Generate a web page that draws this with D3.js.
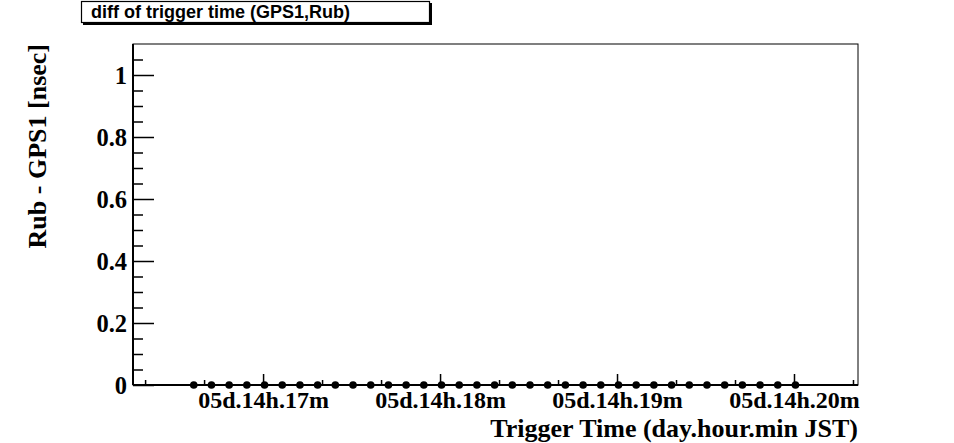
<!DOCTYPE html>
<html>
<head>
<meta charset="utf-8">
<script src="https://cdn.jsdelivr.net/npm/d3@7"></script>
<style>
html,body{margin:0;padding:0;background:#fff;}
svg{display:block;}
</style>
</head>
<body>
<svg id="chart" width="954" height="443"></svg>
<script>
// ---- data ----
const chartTitle = "diff of trigger time (GPS1,Rub)";
const xTitle = "Trigger Time (day.hour.min JST)";
const yTitle = "Rub - GPS1 [nsec]";
// trigger times: seconds after 05d.14h.16m
const triggerSeconds = [36.5, 42.5, 48.5, 54.5, 60.5, 66.5, 72.5, 78.5, 84.5, 90.5,
  96.5, 102.5, 108.5, 114.5, 120.5, 126.5, 132.5, 138.5, 144.5, 150.5,
  156.5, 162.5, 168.5, 174.5, 180.5, 186.5, 192.5, 198.5, 204.5, 210.5,
  216.5, 222.5, 228.5, 234.5, 240.5];
const diffValues = [0, 0, 0, 0, 0, 0, 0, 0, 0, 0,
  0, 0, 0, 0, 0, 0, 0, 0, 0, 0,
  0, 0, 0, 0, 0, 0, 0, 0, 0, 0,
  0, 0, 0, 0, 0];
const xMajorTicks = [60, 120, 180, 240];
const xTickLabels = ["05d.14h.17m", "05d.14h.18m", "05d.14h.19m", "05d.14h.20m"];
const xMinorTicks = [20, 40, 80, 100, 140, 160, 200, 220, 260];
const yMajorTicks = [0, 0.2, 0.4, 0.6, 0.8, 1];
const yTickLabels = ["0", "0.2", "0.4", "0.6", "0.8", "1"];
const yMinorTicks = [0.05, 0.1, 0.15, 0.25, 0.3, 0.35, 0.45, 0.5, 0.55, 0.65, 0.7, 0.75, 0.85, 0.9, 0.95, 1.05];
const xDomain = [15.9, 261.7];
const yDomain = [0, 1.1];

// ---- layout ----
const L = 133, R = 858, T = 44, B = 385;
const svg = d3.select("#chart");
const x = d3.scaleLinear().domain(xDomain).range([L, R]);
const y = d3.scaleLinear().domain(yDomain).range([B, T]);
const serif = "'Liberation Serif','Times New Roman',serif";

// frame
svg.append("rect").attr("x", L).attr("y", T).attr("width", R - L).attr("height", B - T)
  .attr("fill", "none").attr("stroke", "#000").attr("stroke-width", 1);

// x axis
const gx = svg.append("g").attr("transform", `translate(0,${B})`);
gx.call(d3.axisBottom(x).tickValues(xMinorTicks).tickSize(-5).tickFormat(""))
  .call(g => g.select(".domain").remove());
gx.append("g").call(d3.axisBottom(x).tickValues(xMajorTicks).tickSize(-11)
    .tickFormat((d, i) => xTickLabels[i]))
  .call(g => g.select(".domain").remove())
  .call(g => g.selectAll("text").attr("y", 23).attr("dy", 0)
    .attr("font-family", serif).attr("font-weight", "bold").attr("font-size", 24).attr("fill", "#000"));
gx.selectAll("line").attr("stroke", "#000").attr("stroke-width", 1.5);
svg.append("line").attr("x1", L).attr("x2", R).attr("y1", B).attr("y2", B)
  .attr("stroke", "#000").attr("stroke-width", 2);

// y axis
const gy = svg.append("g").attr("transform", `translate(${L},0)`);
gy.call(d3.axisLeft(y).tickValues(yMinorTicks).tickSize(-10).tickFormat(""))
  .call(g => g.select(".domain").remove());
gy.append("g").call(d3.axisLeft(y).tickValues(yMajorTicks).tickSize(-21)
    .tickFormat((d, i) => yTickLabels[i]))
  .call(g => g.select(".domain").remove())
  .call(g => g.selectAll("text").attr("x", -6).attr("dy", "0.36em")
    .attr("font-family", serif).attr("font-weight", "bold").attr("font-size", 24.5).attr("fill", "#000"));
gy.selectAll("line").attr("stroke", "#000").attr("stroke-width", 1.5);
svg.append("line").attr("x1", L).attr("x2", L).attr("y1", T).attr("y2", B)
  .attr("stroke", "#000").attr("stroke-width", 2);

// points
svg.append("g").selectAll("circle")
  .data(triggerSeconds.map((t, i) => ({t, v: diffValues[i]})))
  .join("circle")
  .attr("cx", d => x(d.t)).attr("cy", d => y(d.v)).attr("r", 3.8).attr("fill", "#000");

// axis titles
svg.append("text").attr("x", R).attr("y", 437).attr("text-anchor", "end")
  .attr("font-family", serif).attr("font-weight", "bold").attr("font-size", 26).text(xTitle);
svg.append("text").attr("transform", `translate(46,${T}) rotate(-90)`).attr("text-anchor", "end")
  .attr("font-family", serif).attr("font-weight", "bold").attr("font-size", 26).text(yTitle);

// title box
svg.append("rect").attr("x", 83).attr("y", 3).attr("width", 349).attr("height", 22).attr("fill", "#000");
svg.append("rect").attr("x", 81.5).attr("y", 1.5).attr("width", 348).attr("height", 21)
  .attr("fill", "#fff").attr("stroke", "#000").attr("stroke-width", 1.2);
svg.append("text").attr("x", 91).attr("y", 18).attr("font-family", "'Liberation Sans',Arial,sans-serif")
  .attr("font-weight", "bold").attr("font-size", 18).text(chartTitle);
</script>
</body>
</html>
